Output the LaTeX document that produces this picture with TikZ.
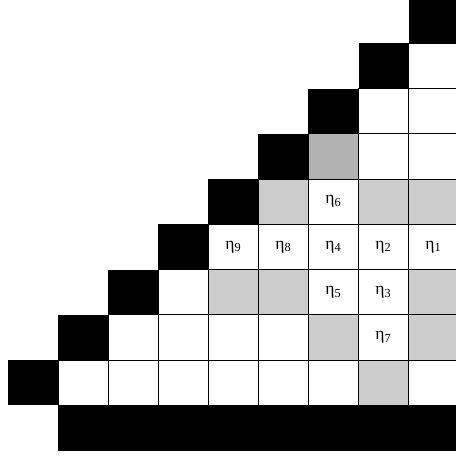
\documentclass[tikz,border=0pt]{standalone}
\usepackage{fontspec}
\setmainfont{Liberation Serif}
\usetikzlibrary{positioning}
\begin{document}
\begin{tikzpicture}[
    x=1cm, y=0.905cm,
    wall/.style={fill=black},                              % black border cells
    open/.style={draw=black, line width=0.6pt, fill=white}, % plain grid cells
    shade/.style={open, fill=black!20},                    % light grey cells
    deep/.style={open, fill=black!30},                     % darker grey cell
    lbl/.style={inner sep=0pt}                             % cell labels
]

    % Frame of the picture
    \useasboundingbox (-0.166,-0.161) rectangle (8.934,9.955);

    % Open cells of the triangle
    \foreach \j in {1,...,8}
        \foreach \c in {\j,...,8}
            \draw[open] (\c,\j) rectangle ++(1,1);

    % Grey cells
    \foreach \c/\j in {5/5, 7/5, 8/5, 4/3, 5/3, 8/3, 6/2, 8/2, 7/1}
        \draw[shade] (\c,\j) rectangle ++(1,1);
    \draw[deep] (6,6) rectangle ++(1,1);

    % Black staircase and bottom bar
    \foreach \j in {1,...,9}
        \fill[wall] (\j-1,\j) rectangle ++(1,1);
    \fill[wall] (1,0) rectangle (9,1);

    % Labels eta_k
    \foreach \k/\c/\j in {1/8/4, 2/7/4, 3/7/3, 4/6/4, 5/6/3, 6/6/5, 7/7/2, 8/5/4, 9/4/4}
        \node[lbl] (eta\k) at (\c+0.5,\j+0.5) {η\textsubscript{\k}};

\end{tikzpicture}
\end{document}
